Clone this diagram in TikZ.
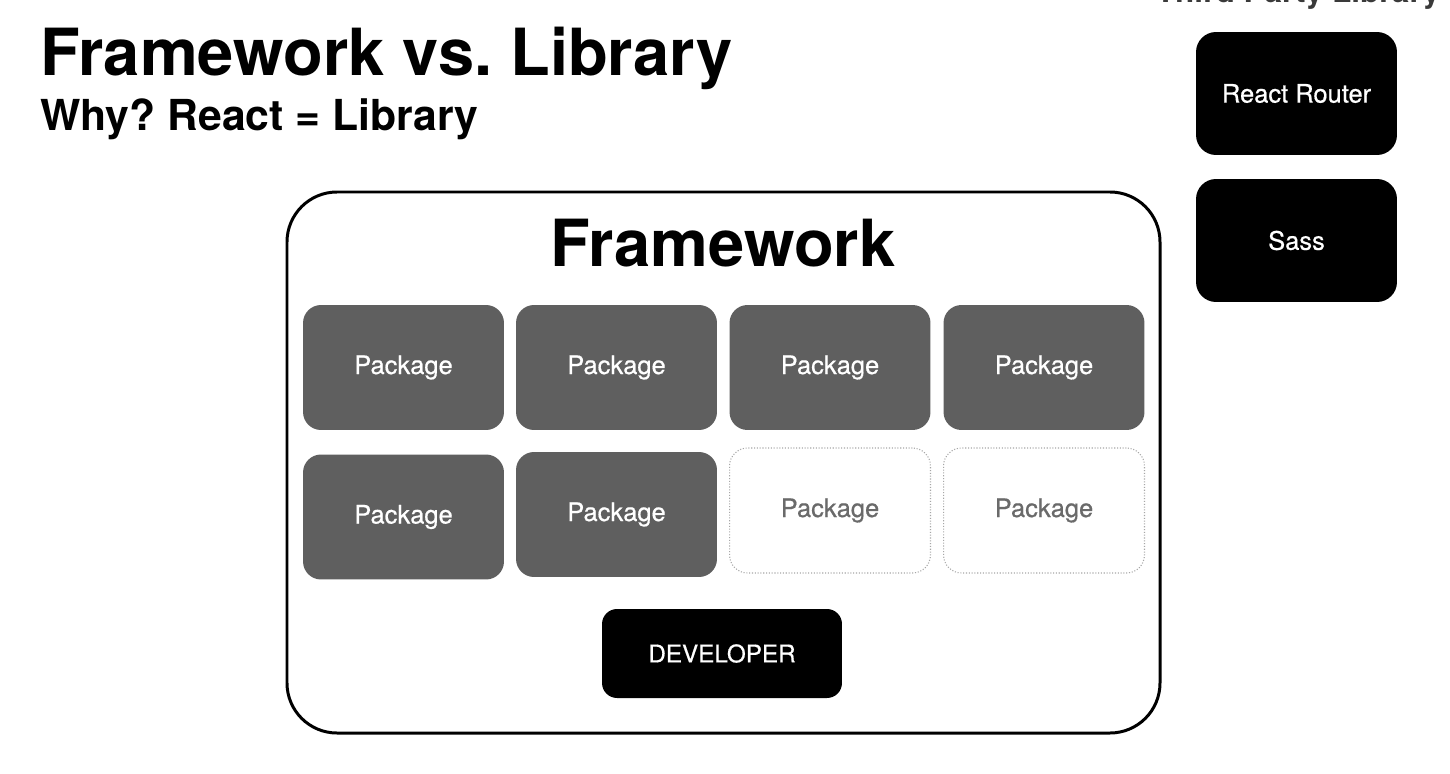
\documentclass[tikz,border=0pt]{standalone}
\usepackage{fontspec}
\setmainfont{TeX Gyre Heros}
\newfontfamily\medfont[FakeBold=0.6]{TeX Gyre Heros}
\usepackage{tikz}
\usepackage{xcolor}
\definecolor{pkggray}{HTML}{5F5F5F}
\definecolor{dimtext}{HTML}{6A6A6A}
\definecolor{hdrgray}{HTML}{3A3A3A}
\frenchspacing

\begin{document}
\begin{tikzpicture}[x=0.02cm,y=-0.02cm]
\tikzstyle{every node}+=[inner sep=0pt]
\tikzstyle{pkg}=[rectangle, rounded corners=0.36cm, fill=pkggray, text=white, minimum width=4.02cm, minimum height=2.5cm, font=\medfont\fontsize{14.5}{16}\selectfont]
\tikzstyle{pkgempty}=[rectangle, rounded corners=0.36cm, draw=gray!70, densely dotted, line width=0.6pt, text=dimtext, minimum width=4.02cm, minimum height=2.5cm, font=\medfont\fontsize{14.5}{16}\selectfont]
\tikzstyle{blackbox}=[rectangle, rounded corners=0.4cm, fill=black, text=white, minimum width=4.02cm, minimum height=2.46cm, font=\medfont\fontsize{14.5}{16}\selectfont]
\useasboundingbox (0,0) rectangle (1450,774);
\fill [white] (0,0) rectangle (1450,774);
% headings
\node (title) [anchor=base west, font=\bfseries\fontsize{37}{40}\selectfont] at (40,75) {Framework vs. Library};
\node (subtitle) [anchor=base west, font=\bfseries\fontsize{24.3}{28}\selectfont] at (40,130) {Why? React = Library};
\node (thirdparty) [anchor=base, text=hdrgray, font=\bfseries\fontsize{18}{20}\selectfont] at (1298,3) {Third Party Library};
% third party boxes
\node (router) [blackbox] at (1296.5,93.5) {React Router};
\node (sass) [blackbox] at (1296.5,240.5) {Sass};
% framework frame
\draw [black, line width=1.7pt, rounded corners=1cm] (287,192) rectangle (1160,733);
\node (framework) [font=\bfseries\fontsize{37}{40}\selectfont] at (723,243) {Framework};
% packages
\node (pkgA) [pkg] at (403.5,367.5) {Package};
\node (pkgB) [pkg] at (616.5,367.5) {Package};
\node (pkgC) [pkg] at (830,367.5) {Package};
\node (pkgD) [pkg] at (1044,367.5) {Package};
\node (pkgE) [pkg] at (403.5,517) {Package};
\node (pkgF) [pkg] at (616.5,514.5) {Package};
\node (pkgG) [pkgempty] at (830,510.5) {Package};
\node (pkgH) [pkgempty] at (1044,510.5) {Package};
\node (developer) [blackbox, rounded corners=0.3cm, minimum width=4.8cm, minimum height=1.78cm, font=\medfont\fontsize{13.8}{16}\selectfont] at (722,653.5) {DEVELOPER};
\end{tikzpicture}
\end{document}
